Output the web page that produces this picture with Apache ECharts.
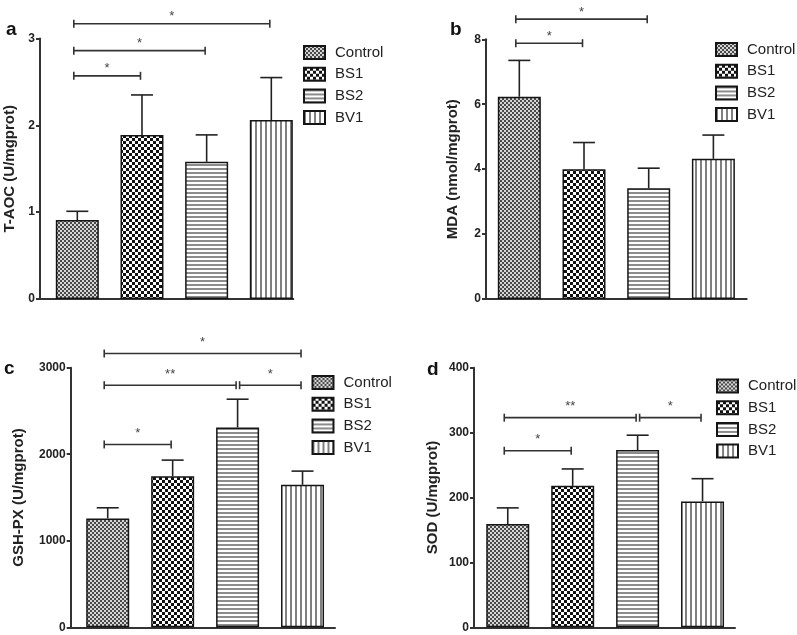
<!DOCTYPE html>
<html>
<head>
<meta charset="utf-8">
<script src="https://cdn.jsdelivr.net/npm/echarts@6/dist/echarts.min.js"></script>
<style>
html,body{margin:0;padding:0;background:#fff;}
#chart{width:797px;height:635px;}
</style>
</head>
<body>
<div id="chart"></div>
<script>
// ---------------- DATA ----------------
const groups = ['Control', 'BS1', 'BS2', 'BV1'];

const taocMean = [0.91, 1.89, 1.58, 2.06];
const taocSem  = [0.10, 0.46, 0.31, 0.49];

const mdaMean = [6.23, 4.00, 3.41, 4.32];
const mdaSem  = [1.12, 0.82, 0.62, 0.73];

const gshMean = [1258, 1747, 2309, 1647];
const gshSem  = [123, 185, 327, 158];

const sodMean = [159, 218, 273, 194];
const sodSem  = [25, 26, 23, 35];

// significance brackets: [groupFrom, groupTo, level, label]
const taocSig = [[0, 1, 2.57, '*'], [0, 2, 2.86, '*'], [0, 3, 3.17, '*']];
const mdaSig  = [[0, 1, 7.88, '*'], [0, 2, 8.62, '*']];
const gshSig  = [[0, 1, 2113, '*'], [0, 2, 2798, '**'], [2, 3, 2798, '*'], [0, 3, 3164, '*']];
const sodSig  = [[0, 1, 272, '*'], [0, 2, 323, '**'], [2, 3, 323, '*']];

const yNames = ['T-AOC (U/mgprot)', 'MDA (nmol/mgprot)', 'GSH-PX (U/mgprot)', 'SOD (U/mgprot)'];
const yMax = [3, 8, 3000, 400];
const yInterval = [1, 2, 1000, 100];
const panelLetters = ['a', 'b', 'c', 'd'];

// ---------------- LAYOUT / STYLE ----------------
const FONT = 'Liberation Sans, Arial, Helvetica, sans-serif';
const panels = [
  {mean: taocMean, sem: taocSem, sig: taocSig, grid: {left: 40, top: 38.5, width: 253.3, height: 260.5}, xr: [-0.577, 3.34], nameGap: 23, legend: {left: 303, top: 45}, letter: [6, 36], starOff: 10},
  {mean: mdaMean, sem: mdaSem, sig: mdaSig, grid: {left: 486, top: 39.3, width: 260.7, height: 259.7}, xr: [-0.515, 3.515], nameGap: 26, legend: {left: 715, top: 42}, letter: [450, 36], starOff: 10},
  {mean: gshMean, sem: gshSem, sig: gshSig, grid: {left: 70.7, top: 367.7, width: 264.3, height: 259.6}, xr: [-0.57, 3.50], nameGap: 44, legend: {left: 311.5, top: 375}, letter: [4, 375.5], starOff: 14},
  {mean: sodMean, sem: sodSem, sig: sodSig, grid: {left: 474, top: 367.7, width: 261, height: 259.6}, xr: [-0.52, 3.50], nameGap: 34, legend: {left: 716, top: 378.5}, letter: [427, 376], starOff: 14}
];

function makePattern(kind) {
  const c = document.createElement('canvas');
  let ctx;
  if (kind === 0) { // fine gray checker
    c.width = 4; c.height = 4; ctx = c.getContext('2d');
    ctx.fillStyle = '#d6d6d6'; ctx.fillRect(0, 0, 4, 4);
    ctx.fillStyle = '#4a4a4a'; ctx.fillRect(0, 0, 2, 2); ctx.fillRect(2, 2, 2, 2);
  } else if (kind === 1) { // coarse black/white checker
    c.width = 6; c.height = 6; ctx = c.getContext('2d');
    ctx.fillStyle = '#ffffff'; ctx.fillRect(0, 0, 6, 6);
    ctx.fillStyle = '#111111'; ctx.fillRect(0, 0, 3, 3); ctx.fillRect(3, 3, 3, 3);
  } else if (kind === 2) { // horizontal stripes
    c.width = 4; c.height = 4; ctx = c.getContext('2d');
    ctx.fillStyle = '#ffffff'; ctx.fillRect(0, 0, 4, 4);
    ctx.fillStyle = '#8c8c8c'; ctx.fillRect(0, 0, 4, 2);
  } else { // vertical stripes
    c.width = 5; c.height = 5; ctx = c.getContext('2d');
    ctx.fillStyle = '#ffffff'; ctx.fillRect(0, 0, 5, 5);
    ctx.fillStyle = '#808080'; ctx.fillRect(0, 0, 2, 5);
  }
  return {image: c, repeat: 'repeat'};
}
const patterns = groups.map((g, k) => makePattern(k));

const grids = [], xAxes = [], yAxes = [], series = [], legends = [], graphics = [];
const axisLineStyle = {color: '#333', width: 2};

panels.forEach((p, pi) => {
  grids.push(Object.assign({containLabel: false}, p.grid));
  xAxes.push({
    type: 'value', gridIndex: pi, min: p.xr[0], max: p.xr[1],
    axisLine: {show: true, onZero: false, lineStyle: axisLineStyle},
    axisTick: {show: false}, axisLabel: {show: false}, splitLine: {show: false}
  });
  yAxes.push({
    type: 'value', gridIndex: pi, min: 0, max: yMax[pi], interval: yInterval[pi],
    name: yNames[pi], nameLocation: 'middle', nameGap: p.nameGap,
    nameTextStyle: {fontFamily: FONT, fontWeight: 'bold', fontSize: 15, color: '#222'},
    axisLine: {show: true, onZero: false, lineStyle: axisLineStyle},
    axisTick: {show: true, length: 4, lineStyle: axisLineStyle},
    axisLabel: {fontFamily: FONT, fontWeight: 'bold', fontSize: 12, color: '#222', margin: 5,
      formatter: v => String(v)},
    splitLine: {show: false}
  });
  groups.forEach((g, gi) => {
    series.push({
      type: 'bar', name: g, xAxisIndex: pi, yAxisIndex: pi,
      barWidth: 43, barGap: '-100%',
      data: [[gi, p.mean[gi]]],
      itemStyle: {color: patterns[gi], borderColor: '#151515', borderWidth: 1.5},
      emphasis: {disabled: true}
    });
  });
  // error bars (upper whisker with cap)
  series.push({
    type: 'custom', xAxisIndex: pi, yAxisIndex: pi, z: 5,
    data: p.mean.map((m, i) => [i, m, m + p.sem[i]]),
    renderItem: function (params, api) {
      const x = api.value(0);
      const a = api.coord([x, api.value(1)]);
      const b = api.coord([x, api.value(2)]);
      const st = {stroke: '#222', lineWidth: 1.6};
      return {type: 'group', children: [
        {type: 'line', shape: {x1: a[0], y1: a[1], x2: b[0], y2: b[1]}, style: st},
        {type: 'line', shape: {x1: b[0] - 11, y1: b[1], x2: b[0] + 11, y2: b[1]}, style: st}
      ]};
    }
  });
  // significance brackets
  series.push({
    type: 'custom', xAxisIndex: pi, yAxisIndex: pi, z: 5, clip: false,
    data: p.sig.map(s => [s[0], s[1], s[2]]),
    renderItem: function (params, api) {
      const i = api.value(0), j = api.value(1), lv = api.value(2);
      const a = api.coord([i, lv]), b = api.coord([j, lv]);
      const x1 = a[0] + (i === 0 ? -3.5 : 2), x2 = b[0] - 1.5, y = a[1];
      const txt = p.sig[params.dataIndex][3];
      const st = {stroke: '#333', lineWidth: 1.6};
      return {type: 'group', children: [
        {type: 'line', shape: {x1: x1, y1: y, x2: x2, y2: y}, style: st},
        {type: 'line', shape: {x1: x1, y1: y - 4, x2: x1, y2: y + 4}, style: st},
        {type: 'line', shape: {x1: x2, y1: y - 4, x2: x2, y2: y + 4}, style: st},
        {type: 'text', style: {text: txt, x: (x1 + x2) / 2, y: y - p.starOff + 3, align: 'center', verticalAlign: 'middle',
          font: '13px ' + FONT, fill: '#444'}}
      ]};
    }
  });
  legends.push({
    data: groups, orient: 'vertical', left: p.legend.left, top: p.legend.top,
    padding: 0, width: 120,
    icon: 'rect', itemWidth: 21, itemHeight: 13, itemGap: 6.7,
    selectedMode: false,
    textStyle: {fontFamily: FONT, fontSize: 15, color: '#222', lineHeight: 13, padding: [0, 0, 0, 5], overflow: 'none'}
  });
  graphics.push({
    type: 'text', x: p.letter[0], y: p.letter[1] - 16,
    style: {text: panelLetters[pi], font: 'bold 19px ' + FONT, fill: '#111', verticalAlign: 'top'}
  });
});

const chart = echarts.init(document.getElementById('chart'), null, {renderer: 'canvas'});
chart.setOption({
  animation: false,
  backgroundColor: '#fff',
  grid: grids,
  xAxis: xAxes,
  yAxis: yAxes,
  legend: legends,
  series: series,
  graphic: graphics
});
</script>
</body>
</html>
